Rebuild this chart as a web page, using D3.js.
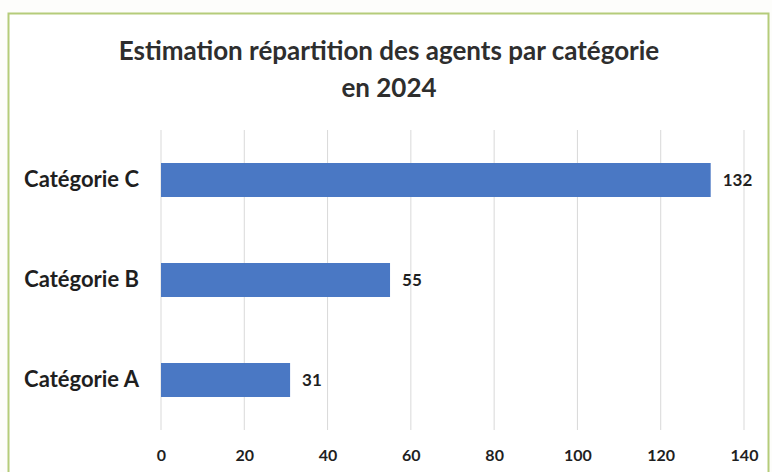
<!DOCTYPE html>
<html>
<head>
<meta charset="utf-8">
<script src="https://cdn.jsdelivr.net/npm/d3@7"></script>
<style>
  body { margin: 0; background: #fdfdfb; }
  svg { display: block; }
</style>
</head>
<body>
<svg id="chart"></svg>
<script>
// data
const titleLines = ['Estimation répartition des agents par catégorie', 'en 2024'];
const categories = ['Catégorie C', 'Catégorie B', 'Catégorie A'];
const values = [132, 55, 31];
const xTicks = [0, 20, 40, 60, 80, 100, 120, 140];

const width = 772, height = 472;
const margin = { top: 130, right: 28, bottom: 42, left: 161 };
const font = 'Lato, "Open Sans", sans-serif';

const svg = d3.select('#chart')
    .attr('width', width)
    .attr('height', height);

// chart frame (scanned green border)
svg.append('rect')
    .attr('x', 8.5).attr('y', 13.5)
    .attr('width', 760).attr('height', 470)
    .attr('fill', '#ffffff')
    .attr('stroke', '#b5cc7a')
    .attr('stroke-width', 2);

// title
svg.append('text')
    .attr('x', 389)
    .attr('y', 60)
    .attr('text-anchor', 'middle')
    .style('font-family', font)
    .style('font-weight', 'bold')
    .style('font-size', '26px')
    .attr('fill', '#2e2e2e')
    .selectAll('tspan')
    .data(titleLines)
    .join('tspan')
      .attr('x', 389)
      .attr('dy', (d, i) => i === 0 ? 0 : 37)
      .text(d => d);

const x = d3.scaleLinear()
    .domain([0, 140])
    .range([margin.left, width - margin.right]);

const y = d3.scaleBand()
    .domain(categories)
    .range([margin.top, height - margin.bottom])
    .paddingInner(0.66)
    .paddingOuter(0.33);

const bounds = svg.append('g');

// vertical gridlines
bounds.selectAll('line.grid')
    .data(xTicks)
    .join('line')
      .attr('class', 'grid')
      .attr('x1', d => x(d)).attr('x2', d => x(d))
      .attr('y1', margin.top).attr('y2', height - margin.bottom)
      .attr('stroke', '#d9d9d9')
      .attr('stroke-width', 1);

// x axis labels, no domain line
const xAxis = bounds.append('g')
    .attr('transform', `translate(0, ${height - margin.bottom})`)
    .call(d3.axisBottom(x).tickValues(xTicks).tickSize(0).tickPadding(20));
xAxis.select('.domain').remove();
xAxis.selectAll('text')
    .style('font-family', font)
    .style('font-weight', 'bold')
    .style('font-size', '16px')
    .attr('fill', '#1f1f1f');

// y axis labels
const yAxis = bounds.append('g')
    .attr('transform', `translate(${margin.left}, 0)`)
    .call(d3.axisLeft(y).tickSize(0).tickPadding(22));
yAxis.select('.domain').remove();
yAxis.selectAll('text')
    .style('font-family', font)
    .style('font-weight', 'bold')
    .style('font-size', '22px')
    .attr('fill', '#1f1f1f');

// bars
bounds.selectAll('rect.bar')
    .data(values)
    .join('rect')
      .attr('class', 'bar')
      .attr('x', x(0))
      .attr('y', (d, i) => y(categories[i]))
      .attr('width', d => x(d) - x(0))
      .attr('height', y.bandwidth())
      .attr('fill', '#4a78c4');

// value labels
bounds.selectAll('text.value')
    .data(values)
    .join('text')
      .attr('class', 'value')
      .attr('x', d => x(d) + 12)
      .attr('y', (d, i) => y(categories[i]) + y.bandwidth() / 2)
      .attr('dy', '0.35em')
      .style('font-family', font)
      .style('font-weight', 'bold')
      .style('font-size', '17px')
      .attr('fill', '#1f1f1f')
      .text(d => d);
</script>
</body>
</html>
